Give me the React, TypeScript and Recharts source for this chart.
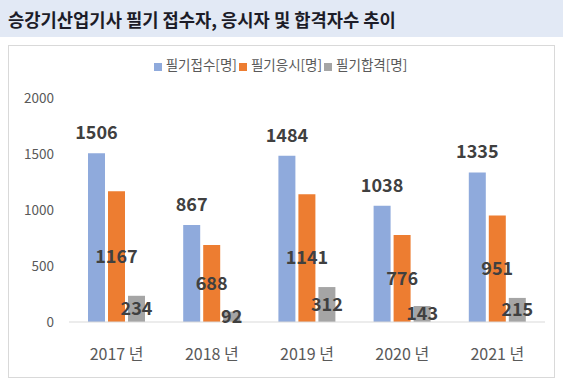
import { Bar, BarChart, LabelList, Legend, XAxis, YAxis } from "recharts";

const years = ["2017 년", "2018 년", "2019 년", "2020 년", "2021 년"];
const applied = [1506, 867, 1484, 1038, 1335];
const tested = [1167, 688, 1141, 776, 951];
const passed = [234, 92, 312, 143, 215];
const yTicks = [0, 500, 1000, 1500, 2000];

const series = [
  { key: "applied", name: "필기접수[명]", color: "#8faadc" },
  { key: "tested", name: "필기응시[명]", color: "#ed7d31" },
  { key: "passed", name: "필기합격[명]", color: "#a5a5a5" },
];

const data = years.map((year, i) => ({
  year,
  applied: applied[i],
  tested: tested[i],
  passed: passed[i],
}));

const FONT = '"Noto Sans CJK KR", "Noto Sans", sans-serif';
const labelStyle = { fontSize: 18, fontWeight: 700, fill: "#404040", fontFamily: FONT };

function LegendRow() {
  return (
    <div
      style={{
        display: "flex",
        justifyContent: "center",
        fontFamily: FONT,
        fontSize: 13.5,
        lineHeight: "19px",
        color: "#595959",
      }}
    >
      {series.map((s) => (
        <span key={s.key} style={{ display: "inline-flex", alignItems: "center", marginRight: 2 }}>
          <span
            style={{
              display: "inline-block",
              width: 8,
              height: 8,
              background: s.color,
              marginRight: 4,
              marginTop: 5,
            }}
          />
          {s.name}
        </span>
      ))}
    </div>
  );
}

export default function App() {
  return (
    <div style={{ position: "absolute", left: 0, top: 0, width: 563, height: 388, background: "#fff" }}>
      <div
        style={{
          position: "absolute",
          left: 0,
          top: 0,
          width: 563,
          height: 37,
          background: "#e2e9f5",
        }}
      >
        <div
          style={{
            position: "absolute",
            left: 8,
            top: 6,
            fontFamily: FONT,
            fontWeight: 700,
            fontSize: 17.7,
            color: "#1c1c28",
            whiteSpace: "nowrap",
          }}
        >
          승강기산업기사 필기 접수자, 응시자 및 합격자수 추이
        </div>
      </div>
      <div
        style={{
          position: "absolute",
          left: 8,
          top: 45,
          width: 545,
          height: 331,
          border: "1px solid #d9d9d9",
        }}
      >
        <BarChart
          width={545}
          height={331}
          data={data}
          margin={{ top: 33, right: 9, left: 0, bottom: 0 }}
          barSize={17}
          barGap={3}
        >
          <Legend
            verticalAlign="top"
            height={19}
            content={() => <LegendRow />}
            wrapperStyle={{ top: 9, left: 0, width: 545 }}
          />
          <XAxis
            dataKey="year"
            height={55}
            tickSize={0}
            tickMargin={27}
            axisLine={{ stroke: "#d9d9d9" }}
            tickLine={false}
            tick={{ fontSize: 16, fill: "#595959", fontFamily: FONT }}
          />
          <YAxis
            domain={[0, 2000]}
            ticks={yTicks}
            width={60}
            tickSize={0}
            tickMargin={15}
            axisLine={false}
            tickLine={false}
            tick={{ fontSize: 13.5, fill: "#595959", fontFamily: FONT }}
          />
          {series.map((s) => (
            <Bar key={s.key} dataKey={s.key} name={s.name} fill={s.color} isAnimationActive={false}>
              <LabelList
                dataKey={s.key}
                position={s.key === "applied" ? "top" : "center"}
                offset={14}
                style={labelStyle}
              />
            </Bar>
          ))}
        </BarChart>
      </div>
    </div>
  );
}
